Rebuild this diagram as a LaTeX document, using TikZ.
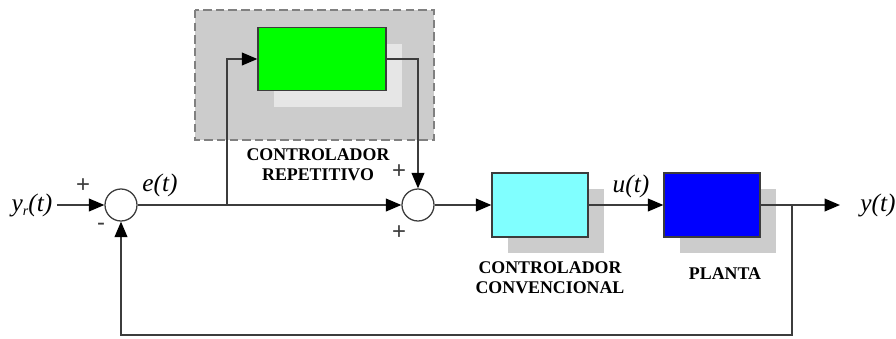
\documentclass[tikz,border=0pt]{standalone}
\usepackage{fontspec}
\setmainfont{Liberation Serif}
\newfontfamily\signfont{Liberation Sans}
\usetikzlibrary{arrows.meta, positioning, calc}
\definecolor{linegray}{RGB}{60, 60, 60}
\definecolor{boxgray}{RGB}{204, 204, 204}
\definecolor{lightshade}{RGB}{230, 230, 230}
\definecolor{repgreen}{RGB}{0, 255, 0}
\definecolor{convcyan}{RGB}{128, 255, 255}
\definecolor{plantblue}{RGB}{0, 0, 255}
\newcommand{\pxu}{*0.025cm}

\tikzset{
  block/.style={draw=linegray, line width=0.9pt, minimum width=96\pxu, minimum height=64\pxu, inner sep=0pt},
  shade/.style={fill=boxgray, minimum width=96\pxu, minimum height=64\pxu, inner sep=0pt},
  sumnode/.style={circle, draw=linegray, fill=white, line width=0.9pt, minimum size=32\pxu, inner sep=0pt},
  wire/.style={draw=linegray, line width=1.3pt},
  sig/.style={font=\fontsize{18}{20}\selectfont\itshape, inner sep=1pt},
  sign/.style={font=\fontsize{17}{17}\selectfont\signfont, text=linegray, inner sep=0pt},
  caption/.style={font=\fontsize{12.7}{14.5}\selectfont\bfseries, align=center, inner sep=0pt},
  >={Triangle[length=11pt, width=9pt, color=black]}
}

\begin{document}
\begin{tikzpicture}[x=0.025cm, y=-0.025cm]
  \useasboundingbox (0,0) rectangle (896,338);

  % repetitive controller area
  \draw[fill=boxgray, draw=black!50, line width=1.3pt, dash pattern=on 6pt off 3pt] (195,10) rectangle (434,140);
  \node[shade, fill=lightshade, minimum width=128\pxu, minimum height=63\pxu] at (338,75) {};
  \node[block, fill=repgreen, minimum width=128\pxu, minimum height=63\pxu] (rep) at (322,59) {};
  \node[caption] (replabel) at (318,165) {CONTROLADOR\\REPETITIVO};

  % summing junctions
  \node[sumnode] (s1) at (121,205) {};
  \node[sumnode] (s2) at (418,205) {};

  % conventional controller and plant
  \node[shade] at (556,221) {};
  \node[block, fill=convcyan] (cc) at (540,205) {};
  \node[shade] at (728,221) {};
  \node[block, fill=plantblue] (pl) at (712,205) {};
  \node[caption] (cclabel) at (550,278) {CONTROLADOR\\CONVENCIONAL};
  \node[caption] (pllabel) at (725,274) {PLANTA};

  % signals
  \node[sig, anchor=east] (yr) at (54,205) {y\raisebox{-0.35ex}{\fontsize{10}{10}\selectfont r}(t)};
  \node[sig] (e) at (160,185) {e(t)};
  \node[sig] (u) at (631,186) {u(t)};
  \node[sig] (y) at (878,205) {y(t)};
  \node[sign] (p1) at (83,186) {+};
  \node[sign] (m1) at (101,227) {-};
  \node[sign] (p2) at (399,172) {+};
  \node[sign] (p3) at (399,233) {+};

  \coordinate (b1) at (227,205);
  \coordinate (b2) at (792,205);
  \coordinate (yend) at (840,205);
  \coordinate (corner) at (792,335);

  % connections
  \draw[wire, ->, shorten <=2pt] (yr.east) -- (s1.west);
  \draw[wire, ->] (s1.east) -- (s2.west);
  \draw[wire, ->] (b1) |- (rep.west);
  \draw[wire, ->] (rep.east) -| (s2.north);
  \draw[wire, ->] (s2.east) -- (cc.west);
  \draw[wire, ->] (cc.east) -- (pl.west);
  \draw[wire, ->] (pl.east) -- (yend);
  \draw[wire, ->] (b2) -- (corner) -| (s1.south);
\end{tikzpicture}
\end{document}
